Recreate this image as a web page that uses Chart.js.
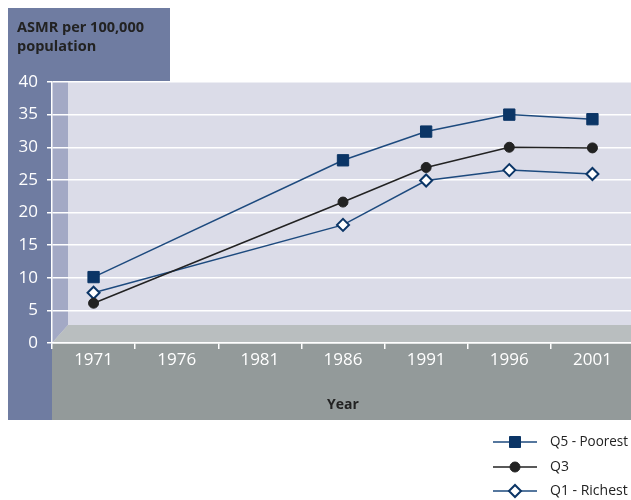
<!DOCTYPE html>
<html>
<head>
<meta charset="utf-8">
<script src="https://cdn.jsdelivr.net/npm/chart.js@4/dist/chart.umd.min.js"></script>
<style>
  html, body { margin: 0; background: #fff; overflow: hidden; }
  #wrap { width: 643px; height: 500px; position: relative; }
</style>
</head>
<body>
<div id="wrap"><canvas id="chart-area"></canvas></div>
<script>
// years on the x axis
var years = ['1971', '1976', '1981', '1986', '1991', '1996', '2001'];
// ASMR per 100,000 population, no data for 1976 and 1981
var q5Poorest = [10.1, null, null, 28.0, 32.4, 35.0, 34.3];
var q3 = [6.1, null, null, 21.6, 26.9, 30.0, 29.9];
var q1Richest = [7.7, null, null, 18.1, 24.9, 26.5, 25.9];
var yTicks = [0, 5, 10, 15, 20, 25, 30, 35, 40];

var navy = '#0b3566';
var navyLine = '#1d4a7e';
var dark = '#222222';

// panels, walls and floor behind the plot
var backdrop = {
  id: 'backdrop',
  beforeDraw: function (chart) {
    var c = chart.ctx, a = chart.chartArea;
    c.save();
    // left panel + title box
    c.fillStyle = '#6f7ca1';
    c.fillRect(8, 8, a.left - 8, 412);
    c.fillRect(8, 8, 162, a.top - 8);
    // gray band under the axis
    c.fillStyle = '#939a9a';
    c.fillRect(a.left, a.bottom, chart.width - a.left, 420 - a.bottom);
    // back wall
    c.fillStyle = '#dbdce8';
    c.fillRect(a.left, a.top, chart.width - a.left, a.bottom - a.top);
    // side wall
    c.fillStyle = '#a3a9c5';
    c.beginPath();
    c.moveTo(a.left, a.top);
    c.lineTo(a.left + 16, a.top);
    c.lineTo(a.left + 16, a.bottom - 18);
    c.lineTo(a.left, a.bottom);
    c.closePath();
    c.fill();
    // floor
    c.fillStyle = '#b9bebf';
    c.beginPath();
    c.moveTo(a.left, a.bottom);
    c.lineTo(a.left + 16, a.bottom - 18);
    c.lineTo(chart.width, a.bottom - 18);
    c.lineTo(chart.width, a.bottom);
    c.closePath();
    c.fill();
    // axis title in the box
    c.fillStyle = dark;
    c.font = 'bold 14.5px "Open Sans", sans-serif';
    c.textBaseline = 'middle';
    c.fillText('ASMR per 100,000', 17, 28);
    c.fillText('population', 17, 47);
    c.restore();
  },
  afterDraw: function (chart) {
    // legend at bottom right
    var c = chart.ctx;
    var rows = [442, 467, 491];
    c.save();
    chart.data.datasets.forEach(function (ds, i) {
      var y = rows[i];
      c.strokeStyle = ds.borderColor;
      c.lineWidth = 1.5;
      c.beginPath();
      c.moveTo(493, y);
      c.lineTo(537, y);
      c.stroke();
      c.fillStyle = ds.pointBackgroundColor;
      c.strokeStyle = ds.pointBorderColor;
      c.lineWidth = ds.pointBorderWidth;
      c.beginPath();
      if (ds.pointStyle === 'rect') {
        c.rect(515 - 5.5, y - 5.5, 11, 11);
      } else if (ds.pointStyle === 'circle') {
        c.arc(515, y, 5, 0, Math.PI * 2);
      } else {
        c.moveTo(515 - 6, y); c.lineTo(515, y - 6);
        c.lineTo(515 + 6, y); c.lineTo(515, y + 6); c.closePath();
      }
      c.fill();
      c.stroke();
      c.fillStyle = dark;
      c.font = '14px "Open Sans", sans-serif';
      c.textBaseline = 'middle';
      c.fillText(ds.label, 550, y, 78);
    });
    c.restore();
  }
};

var config = {
  type: 'line',
  data: {
    labels: years,
    datasets: [{
      label: 'Q5 - Poorest',
      data: q5Poorest,
      borderColor: navyLine,
      borderWidth: 1.5,
      pointStyle: 'rect',
      pointRadius: 8,
      pointBackgroundColor: navy,
      pointBorderColor: navy,
      pointBorderWidth: 1
    }, {
      label: 'Q3',
      data: q3,
      borderColor: dark,
      borderWidth: 1.5,
      pointStyle: 'circle',
      pointRadius: 5,
      pointBackgroundColor: dark,
      pointBorderColor: dark,
      pointBorderWidth: 1
    }, {
      label: 'Q1 - Richest',
      data: q1Richest,
      borderColor: navyLine,
      borderWidth: 1.5,
      pointStyle: 'rectRot',
      pointRadius: 6,
      pointBackgroundColor: '#ffffff',
      pointBorderColor: navy,
      pointBorderWidth: 2
    }]
  },
  options: {
    responsive: true,
    maintainAspectRatio: false,
    animation: false,
    spanGaps: true,
    layout: { padding: { top: 82, bottom: 80, left: 0, right: 0 } },
    plugins: {
      legend: { display: false },
      tooltip: { enabled: false }
    },
    scales: {
      x: {
        offset: true,
        afterFit: function (s) { s.height = 77; },
        grid: { drawOnChartArea: false, color: '#ffffff', lineWidth: 1.5, tickLength: 6, offset: true },
        border: { color: '#ffffff', width: 1.5 },
        ticks: { color: '#ffffff', font: { family: 'Open Sans', size: 17 }, padding: 1 },
        title: {
          display: true, text: 'Year', color: dark,
          font: { family: 'Open Sans', size: 14, weight: 'bold' },
          padding: { top: 0, bottom: 7 }
        }
      },
      y: {
        min: 0, max: 40,
        afterFit: function (s) { s.width = 52; },
        afterBuildTicks: function (s) { s.ticks = yTicks.map(function (v) { return { value: v }; }); },
        grid: { color: '#ffffff', lineWidth: 1.5, tickLength: 5 },
        border: { color: '#ffffff', width: 1.5 },
        ticks: { color: '#ffffff', font: { family: 'Open Sans', size: 17 }, padding: 9 }
      }
    }
  },
  plugins: [backdrop]
};

var ctx = document.getElementById('chart-area').getContext('2d');
window.myLine = new Chart(ctx, config);
</script>
</body>
</html>
